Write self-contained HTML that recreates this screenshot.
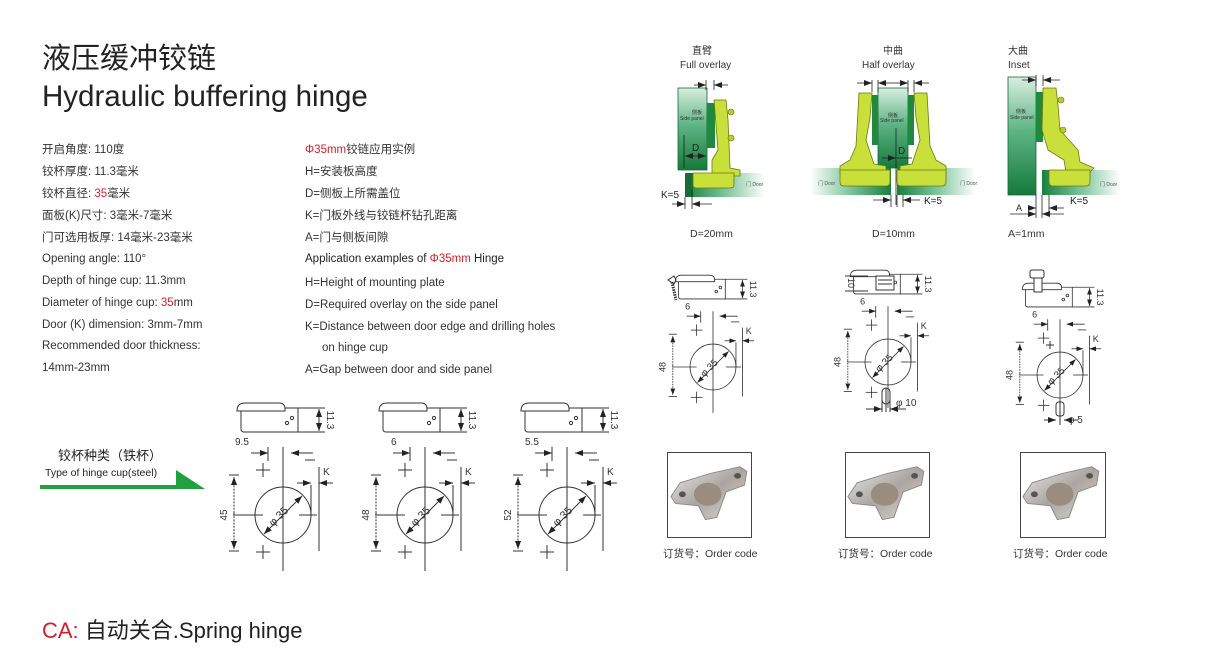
<!DOCTYPE html>
<html><head><meta charset="utf-8">
<style>
body{margin:0;background:#fff;}
#w{position:relative;width:1208px;height:658px;overflow:hidden;background:#fff;font-family:"Liberation Sans","Noto Sans CJK SC",sans-serif;color:#333;}
.t{position:absolute;white-space:nowrap;font-size:11.5px;line-height:14px;}
.r{color:#d0202a;}
svg{position:absolute;left:0;top:0;}
</style></head><body><div id="w">
<div class="t" style="left:42px;top:42px;font-size:29px;line-height:34px;color:#222;">液压缓冲铰链</div>
<div class="t" style="left:42px;top:80px;font-size:29.5px;line-height:34px;color:#222;">Hydraulic buffering hinge</div>

<div class="t" style="left:42px;top:143px;">开启角度: 110度</div>
<div class="t" style="left:42px;top:165px;">铰杯厚度: 11.3毫米</div>
<div class="t" style="left:42px;top:187px;">铰杯直径: <span class="r">35</span>毫米</div>
<div class="t" style="left:42px;top:209px;">面板(K)尺寸: 3毫米-7毫米</div>
<div class="t" style="left:42px;top:231px;">门可选用板厚: 14毫米-23毫米</div>
<div class="t" style="left:42px;top:252px;">Opening angle: 110°</div>
<div class="t" style="left:42px;top:274px;">Depth of hinge cup: 11.3mm</div>
<div class="t" style="left:42px;top:296px;">Diameter of hinge cup: <span class="r">35</span>mm</div>
<div class="t" style="left:42px;top:318px;">Door (K) dimension: 3mm-7mm</div>
<div class="t" style="left:42px;top:339px;">Recommended door thickness:</div>
<div class="t" style="left:42px;top:361px;">14mm-23mm</div>

<div class="t" style="left:305px;top:143px;"><span class="r">Φ35mm</span>铰链应用实例</div>
<div class="t" style="left:305px;top:165px;">H=安装板高度</div>
<div class="t" style="left:305px;top:187px;">D=侧板上所需盖位</div>
<div class="t" style="left:305px;top:209px;">K=门板外线与铰链杯钻孔距离</div>
<div class="t" style="left:305px;top:231px;">A=门与侧板间隙</div>
<div class="t" style="left:305px;top:252px;color:#222;">Application examples of <span class="r">Φ35mm</span> Hinge</div>
<div class="t" style="left:305px;top:276px;">H=Height of mounting plate</div>
<div class="t" style="left:305px;top:298px;">D=Required overlay on the side panel</div>
<div class="t" style="left:305px;top:320px;">K=Distance between door edge and drilling holes</div>
<div class="t" style="left:322px;top:341px;">on hinge cup</div>
<div class="t" style="left:305px;top:363px;">A=Gap between door and side panel</div>

<div class="t" style="left:58px;top:449px;font-size:13px;color:#222;">铰杯种类（铁杯）</div>
<div class="t" style="left:45px;top:466px;font-size:10.5px;color:#222;">Type of hinge cup(steel)</div>

<div class="t" style="left:42px;top:617px;font-size:22px;line-height:28px;color:#222;"><span class="r">CA:</span> 自动关合.Spring hinge</div>

<div class="t" style="left:692px;top:46px;font-size:10px;line-height:11px;">直臂</div>
<div class="t" style="left:680px;top:60px;font-size:10px;line-height:11px;">Full overlay</div>
<div class="t" style="left:883px;top:46px;font-size:10px;line-height:11px;">中曲</div>
<div class="t" style="left:862px;top:60px;font-size:10px;line-height:11px;">Half overlay</div>
<div class="t" style="left:1008px;top:46px;font-size:10px;line-height:11px;">大曲</div>
<div class="t" style="left:1008px;top:60px;font-size:10px;line-height:11px;">Inset</div>
<div class="t" style="left:690px;top:227px;font-size:10.5px;">D=20mm</div>
<div class="t" style="left:872px;top:227px;font-size:10.5px;">D=10mm</div>
<div class="t" style="left:1008px;top:227px;font-size:10.5px;">A=1mm</div>
<div class="t" style="left:663px;top:547px;font-size:10.5px;">订货号：Order code</div>
<div class="t" style="left:838px;top:547px;font-size:10.5px;">订货号：Order code</div>
<div class="t" style="left:1013px;top:547px;font-size:10.5px;">订货号：Order code</div>

<svg width="1208" height="658" viewBox="0 0 1208 658" font-family="Liberation Sans, sans-serif">
<defs>
<linearGradient id="door" x1="0" x2="1" y1="0" y2="0"><stop offset="0" stop-color="#17803e"/><stop offset="0.5" stop-color="#7cc49a"/><stop offset="1" stop-color="#fff"/></linearGradient>
<linearGradient id="doorL" x1="1" x2="0" y1="0" y2="0"><stop offset="0" stop-color="#17803e"/><stop offset="0.5" stop-color="#7cc49a"/><stop offset="1" stop-color="#fff"/></linearGradient>
<linearGradient id="side" x1="0" x2="0" y1="0" y2="1"><stop offset="0" stop-color="#d8eee0"/><stop offset="0.45" stop-color="#5fb585"/><stop offset="1" stop-color="#157a3a"/></linearGradient>
<linearGradient id="met" x1="0" x2="1" y1="0" y2="1"><stop offset="0" stop-color="#ececec"/><stop offset="0.5" stop-color="#aaa59f"/><stop offset="1" stop-color="#dcd8d3"/></linearGradient>
<marker id="ah" markerWidth="8" markerHeight="6" refX="8" refY="3" orient="auto" markerUnits="userSpaceOnUse"><path d="M0,0L8,3L0,6z" fill="#222"/></marker>
<g id="cup" stroke="#333" stroke-width="1" fill="none">
 <path d="M-46,-104 Q-46,-112 -38,-112 L-4,-112 Q2,-112 2,-106 L2,-104 Z" fill="#fff"/>
 <path d="M-42,-104 L-42,-86 Q-42,-83 -39,-83 L15,-83 L15,-107 L2,-107"/>
 <circle cx="4" cy="-92" r="1.6"/><circle cx="9" cy="-97" r="1.6"/>
 <line x1="15" y1="-107" x2="42" y2="-107"/><line x1="15" y1="-83" x2="42" y2="-83"/>
 <line x1="36" y1="-95" x2="36" y2="-106" marker-end="url(#ah)"/><line x1="36" y1="-95" x2="36" y2="-84" marker-end="url(#ah)"/>
 <line x1="-15" y1="-68" x2="-15" y2="-54"/>
 <line x1="-32" y1="-62" x2="-15" y2="-62" marker-end="url(#ah)"/>
 <line x1="30" y1="-62" x2="8" y2="-62" marker-end="url(#ah)"/>
 <line x1="0" y1="-68" x2="0" y2="56"/>
 <line x1="-27" y1="-45" x2="-13" y2="-45"/><line x1="-20" y1="-52" x2="-20" y2="-38"/>
 <line x1="-27" y1="37" x2="-13" y2="37"/><line x1="-20" y1="30" x2="-20" y2="44"/>
 <circle cx="0" cy="0" r="28"/>
 <line x1="-50" y1="0" x2="-20" y2="0"/><line x1="16" y1="0" x2="34" y2="0"/>
 <line x1="28" y1="-30" x2="28" y2="0"/><line x1="36" y1="-48" x2="36" y2="36"/>
 <line x1="22" y1="-55" x2="32" y2="-55"/>
 <line x1="14" y1="-32" x2="28" y2="-32" marker-end="url(#ah)"/><line x1="50" y1="-32" x2="36" y2="-32" marker-end="url(#ah)"/>
 <line x1="-54" y1="-40" x2="-44" y2="-40"/><line x1="-54" y1="36" x2="-44" y2="36"/>
 <line x1="-49" y1="-2" x2="-49" y2="-38" stroke-dasharray="2,1.2" marker-end="url(#ah)"/><line x1="-49" y1="-2" x2="-49" y2="34" stroke-dasharray="2,1.2" marker-end="url(#ah)"/>
 <line x1="0" y1="0" x2="19" y2="-19" marker-end="url(#ah)"/><line x1="0" y1="0" x2="-19" y2="19" marker-end="url(#ah)"/>
</g>
</defs>

<rect x="40" y="485" width="150" height="4" fill="#21a040"/>
<path d="M176,470 L205,489 L176,489 Z" fill="#21a040"/>

<g transform="translate(283,515)"><use href="#cup"/>
 <text x="-48" y="-70" font-size="10" fill="#333">9.5</text>
 <text x="40" y="-40" font-size="10" fill="#333">K</text>
 <text transform="translate(44,-95) rotate(90)" font-size="10" text-anchor="middle" fill="#333">11.3</text>
 <text transform="translate(-56,0) rotate(-90)" font-size="10" text-anchor="middle" fill="#333">45</text>
 <text transform="translate(-2,4) rotate(-45)" font-size="11" text-anchor="middle" fill="#333">φ 35</text></g>
<g transform="translate(425,515)"><use href="#cup"/>
 <text x="-34" y="-70" font-size="10" fill="#333">6</text>
 <text x="40" y="-40" font-size="10" fill="#333">K</text>
 <text transform="translate(44,-95) rotate(90)" font-size="10" text-anchor="middle" fill="#333">11.3</text>
 <text transform="translate(-56,0) rotate(-90)" font-size="10" text-anchor="middle" fill="#333">48</text>
 <text transform="translate(-2,4) rotate(-45)" font-size="11" text-anchor="middle" fill="#333">φ 35</text></g>
<g transform="translate(567,515)"><use href="#cup"/>
 <text x="-42" y="-70" font-size="10" fill="#333">5.5</text>
 <text x="40" y="-40" font-size="10" fill="#333">K</text>
 <text transform="translate(44,-95) rotate(90)" font-size="10" text-anchor="middle" fill="#333">11.3</text>
 <text transform="translate(-56,0) rotate(-90)" font-size="10" text-anchor="middle" fill="#333">52</text>
 <text transform="translate(-2,4) rotate(-45)" font-size="11" text-anchor="middle" fill="#333">φ 35</text></g>

<g transform="translate(713,367) scale(0.82)"><use href="#cup"/>
 <text x="-34" y="-70" font-size="11" fill="#333">6</text>
 <text x="40" y="-40" font-size="11" fill="#333">K</text>
 <text transform="translate(45,-95) rotate(90)" font-size="11" text-anchor="middle" fill="#333">11.3</text>
 <text transform="translate(-58,0) rotate(-90)" font-size="11" text-anchor="middle" fill="#333">48</text>
 <text transform="translate(-2,4) rotate(-45)" font-size="12" text-anchor="middle" fill="#333">φ 35</text></g>
<g stroke="#333" fill="none" stroke-width="1"><path d="M668,280 l6,-4 l2,4 l-2,4z"/><path d="M672,282 L676,300" stroke-width="3" stroke-dasharray="1.5,1"/></g>

<g transform="translate(888,362) scale(0.82)"><use href="#cup"/>
 <text x="-34" y="-70" font-size="11" fill="#333">6</text>
 <text x="40" y="-40" font-size="11" fill="#333">K</text>
 <text transform="translate(45,-95) rotate(90)" font-size="11" text-anchor="middle" fill="#333">11.3</text>
 <text transform="translate(-58,0) rotate(-90)" font-size="11" text-anchor="middle" fill="#333">48</text>
 <text transform="translate(-2,4) rotate(-45)" font-size="12" text-anchor="middle" fill="#333">φ 35</text></g>
<g stroke="#333" fill="none" stroke-width="1">
 <rect x="876" y="276" width="18" height="14" fill="#fff"/><line x1="878" y1="280" x2="892" y2="280"/><line x1="878" y1="284" x2="892" y2="284"/>
 <rect x="882" y="388" width="8" height="16" rx="4"/><line x1="886" y1="388" x2="886" y2="412"/>
 <line x1="882" y1="398" x2="882" y2="412"/><line x1="890" y1="398" x2="890" y2="412"/>
 <line x1="866" y1="409" x2="882" y2="409" marker-end="url(#ah)"/><line x1="906" y1="409" x2="890" y2="409" marker-end="url(#ah)"/>
 <line x1="845" y1="276" x2="868" y2="276"/><line x1="845" y1="291" x2="868" y2="291"/>
</g>
<text x="896" y="406" font-size="10" fill="#333">φ 10</text>
<text transform="translate(848,283) rotate(90)" font-size="9" text-anchor="middle" fill="#333">10</text>

<g transform="translate(1060,375) scale(0.82)"><use href="#cup"/>
 <text x="-34" y="-70" font-size="11" fill="#333">6</text>
 <text x="40" y="-40" font-size="11" fill="#333">K</text>
 <text transform="translate(45,-95) rotate(90)" font-size="11" text-anchor="middle" fill="#333">11.3</text>
 <text transform="translate(-58,0) rotate(-90)" font-size="11" text-anchor="middle" fill="#333">48</text>
 <text transform="translate(-2,4) rotate(-45)" font-size="12" text-anchor="middle" fill="#333">φ 35</text></g>
<g stroke="#333" fill="none" stroke-width="1">
 <rect x="1030" y="270" width="14" height="8" rx="2" fill="#fff"/><rect x="1034" y="278" width="8" height="14" fill="#fff"/>
 <rect x="1056" y="402" width="8" height="14" rx="3"/><line x1="1060" y1="400" x2="1060" y2="425"/>
 <line x1="1044" y1="420" x2="1056" y2="420" marker-end="url(#ah)"/><line x1="1078" y1="420" x2="1064" y2="420" marker-end="url(#ah)"/>
 <line x1="1046" y1="345" x2="1054" y2="345"/><line x1="1050" y1="341" x2="1050" y2="349"/>
</g>
<text x="1068" y="423" font-size="10" fill="#333">φ 5</text>

<g stroke="#444" stroke-width="1" fill="#fff">
 <rect x="667.5" y="452.5" width="84" height="85"/>
 <rect x="845.5" y="452.5" width="84" height="85"/>
 <rect x="1020.5" y="452.5" width="85" height="85"/>
</g>
<g id="ph" transform="translate(710,492) scale(1.15)">
 <path d="M-34,4 L-26,-8 L0,-16 L26,-22 L32,-18 L30,-6 L14,0 L6,22 L-4,24 L-10,12 L-30,10 Z" fill="url(#met)" stroke="#888" stroke-width="0.8"/>
 <ellipse cx="-2" cy="2" rx="12" ry="10" fill="#9a8d80"/>
 <ellipse cx="-24" cy="2" rx="3" ry="2.5" fill="#555"/><ellipse cx="24" cy="-14" rx="3" ry="2.5" fill="#555"/>
</g>
<use href="#ph" transform="translate(177,0)"/>
<use href="#ph" transform="translate(352,0)"/>

<g>
 <rect x="678" y="88" width="29" height="82" fill="url(#side)" stroke="#1a6a35" stroke-width="0.8"/>
 <rect x="707" y="103" width="8" height="45" fill="#1f8a3d"/>
 <rect x="685" y="173" width="80" height="24" fill="url(#door)"/>
 <rect x="685" y="173" width="8" height="24" fill="#166e36"/>
 <path d="M714,100 L726,100 L728,120 L730,168 L740,170 L740,176 L712,176 L712,160 L718,150 Z" fill="#c9df3a" stroke="#6b7a10" stroke-width="0.8"/>
 <path d="M693,173 L734,173 L734,185 Q734,188 730,188 L697,188 Q693,188 693,185 Z" fill="#c9df3a" stroke="#6b7a10" stroke-width="0.8"/>
 <circle cx="731" cy="112" r="3" fill="#b8cc30" stroke="#6b7a10" stroke-width="0.6"/><circle cx="731" cy="138" r="3" fill="#b8cc30" stroke="#6b7a10" stroke-width="0.6"/>
 <text x="692" y="114" font-size="5" fill="#333">侧板</text><text x="680" y="120" font-size="5" fill="#333">Side panel</text>
 <text x="746" y="186" font-size="5" fill="#555">门 Door</text>
</g>
<g stroke="#222" stroke-width="0.8" fill="none">
 <line x1="706" y1="80" x2="706" y2="90"/><line x1="714" y1="80" x2="714" y2="90"/>
 <line x1="694" y1="85" x2="706" y2="85" marker-end="url(#ah)"/><line x1="728" y1="85" x2="714" y2="85" marker-end="url(#ah)"/>
 <line x1="684" y1="135" x2="684" y2="168"/>
 <line x1="694" y1="156" x2="685" y2="156" marker-end="url(#ah)"/><line x1="694" y1="156" x2="706" y2="156" marker-end="url(#ah)"/>
 <line x1="685" y1="197" x2="685" y2="209"/><line x1="692" y1="190" x2="692" y2="209"/>
 <line x1="672" y1="204" x2="685" y2="204" marker-end="url(#ah)"/><line x1="712" y1="204" x2="692" y2="204" marker-end="url(#ah)"/>
</g>
<text x="692" y="151" font-size="10" fill="#222">D</text>
<text x="661" y="198" font-size="10" fill="#222">K=5</text>

<g>
 <rect x="878" y="88" width="30" height="80" fill="url(#side)" stroke="#1a6a35" stroke-width="0.8"/>
 <rect x="872" y="95" width="6" height="50" fill="#1f8a3d"/><rect x="908" y="95" width="6" height="50" fill="#1f8a3d"/>
 <rect x="810" y="168" width="81" height="27" fill="url(#doorL)"/>
 <rect x="897" y="168" width="78" height="27" fill="url(#door)"/>
 <path d="M859,93 L872,93 L870,118 L866,140 L874,164 L886,166 L886,174 L840,174 L840,166 L850,160 L856,146 Z" fill="#c9df3a" stroke="#6b7a10" stroke-width="0.8"/>
 <path d="M927,93 L914,93 L916,118 L920,140 L912,164 L900,166 L900,174 L946,174 L946,166 L936,160 L930,146 Z" fill="#c9df3a" stroke="#6b7a10" stroke-width="0.8"/>
 <path d="M840,170 L890,170 L890,182 Q890,186 886,186 L844,186 Q840,186 840,182 Z" fill="#c9df3a" stroke="#6b7a10" stroke-width="0.8"/>
 <path d="M897,170 L946,170 L946,182 Q946,186 942,186 L901,186 Q897,186 897,182 Z" fill="#c9df3a" stroke="#6b7a10" stroke-width="0.8"/>
 <text x="888" y="117" font-size="5" fill="#333">侧板</text><text x="880" y="122" font-size="5" fill="#333">Side panel</text>
 <text x="818" y="185" font-size="5" fill="#555">门 Door</text><text x="960" y="185" font-size="5" fill="#555">门 Door</text>
</g>
<g stroke="#222" stroke-width="0.8" fill="none">
 <line x1="872" y1="80" x2="872" y2="92"/><line x1="878" y1="80" x2="878" y2="92"/><line x1="908" y1="80" x2="908" y2="92"/><line x1="914" y1="80" x2="914" y2="92"/>
 <line x1="857" y1="83" x2="872" y2="83" marker-end="url(#ah)"/><line x1="893" y1="83" x2="878" y2="83" marker-end="url(#ah)"/>
 <line x1="893" y1="83" x2="908" y2="83" marker-end="url(#ah)"/><line x1="929" y1="83" x2="914" y2="83" marker-end="url(#ah)"/>
 <line x1="896" y1="128" x2="896" y2="205"/>
 <line x1="882" y1="158" x2="896" y2="158" marker-end="url(#ah)"/><line x1="912" y1="158" x2="897" y2="158"/>
 <line x1="891" y1="195" x2="891" y2="207"/><line x1="897" y1="195" x2="897" y2="207"/><line x1="903" y1="195" x2="903" y2="207"/>
 <line x1="873" y1="200" x2="891" y2="200" marker-end="url(#ah)"/><line x1="920" y1="200" x2="903" y2="200" marker-end="url(#ah)"/>
</g>
<text x="898" y="154" font-size="10" fill="#222">D</text>
<text x="924" y="204" font-size="10" fill="#222">K=5</text>

<g>
 <rect x="1008" y="77" width="28" height="118" fill="url(#side)" stroke="#1a6a35" stroke-width="0.8"/>
 <rect x="1036" y="92" width="7" height="50" fill="#1f8a3d"/>
 <rect x="1042" y="170" width="78" height="25" fill="url(#door)"/>
 <path d="M1043,88 L1056,88 L1058,105 L1060,130 L1078,150 L1080,162 L1094,168 L1090,172 L1066,172 L1064,160 L1048,150 L1042,130 Z" fill="#c9df3a" stroke="#6b7a10" stroke-width="0.8"/>
 <path d="M1049,170 L1090,170 L1090,182 Q1090,186 1086,186 L1053,186 Q1049,186 1049,182 Z" fill="#c9df3a" stroke="#6b7a10" stroke-width="0.8"/>
 <circle cx="1061" cy="100" r="3" fill="#b8cc30" stroke="#6b7a10" stroke-width="0.6"/><circle cx="1063" cy="130" r="3" fill="#b8cc30" stroke="#6b7a10" stroke-width="0.6"/>
 <text x="1016" y="113" font-size="5" fill="#333">侧板</text><text x="1010" y="119" font-size="5" fill="#333">Side panel</text>
 <text x="1100" y="186" font-size="5" fill="#555">门 Door</text>
</g>
<g stroke="#222" stroke-width="0.8" fill="none">
 <line x1="1036" y1="75" x2="1036" y2="86"/><line x1="1043" y1="75" x2="1043" y2="86"/>
 <line x1="1022" y1="80" x2="1036" y2="80" marker-end="url(#ah)"/><line x1="1060" y1="80" x2="1043" y2="80" marker-end="url(#ah)"/>
 <line x1="1036" y1="195" x2="1036" y2="218"/><line x1="1042" y1="195" x2="1042" y2="218"/><line x1="1049" y1="195" x2="1049" y2="215"/>
 <line x1="1010" y1="214" x2="1036" y2="214" marker-end="url(#ah)"/><line x1="1064" y1="214" x2="1042" y2="214" marker-end="url(#ah)"/>
 <line x1="1028" y1="208" x2="1036" y2="208" marker-end="url(#ah)"/><line x1="1064" y1="208" x2="1049" y2="208" marker-end="url(#ah)"/>
</g>
<text x="1016" y="211" font-size="9" fill="#222">A</text>
<text x="1070" y="204" font-size="10" fill="#222">K=5</text>
</svg>
</div></body></html>
